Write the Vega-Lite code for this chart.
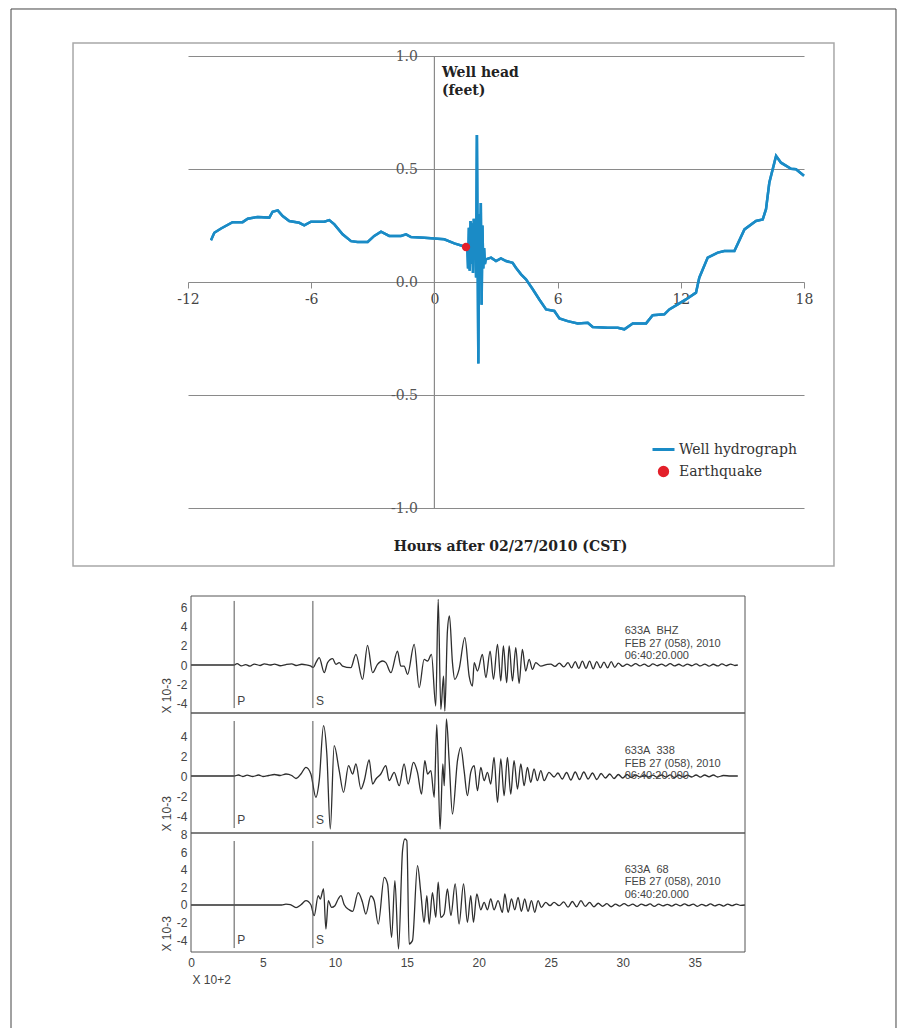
{
  "$schema": "https://vega.github.io/schema/vega-lite/v6.json",
  "padding": {"left": 10, "top": 8, "right": 5, "bottom": 5},
  "background": "white",
  "bounds": "flush",
  "spacing": 0,
  "config": {"view": {"stroke": null}},
  "datasets": {
    "hydro": [
      {"h": -10.88, "v": 0.185}, {"h": -10.72, "v": 0.218}, {"h": -10.39, "v": 0.237}, {"h": -9.83, "v": 0.265}, {"h": -9.34, "v": 0.265},
      {"h": -9.09, "v": 0.28}, {"h": -8.61, "v": 0.288}, {"h": -8.04, "v": 0.285}, {"h": -7.88, "v": 0.311}, {"h": -7.63, "v": 0.317},
      {"h": -7.39, "v": 0.292}, {"h": -7.07, "v": 0.27}, {"h": -6.58, "v": 0.262}, {"h": -6.34, "v": 0.251}, {"h": -6.01, "v": 0.267},
      {"h": -5.36, "v": 0.267}, {"h": -5.12, "v": 0.274}, {"h": -4.87, "v": 0.255}, {"h": -4.47, "v": 0.211}, {"h": -4.06, "v": 0.181},
      {"h": -3.74, "v": 0.177}, {"h": -3.25, "v": 0.177}, {"h": -2.93, "v": 0.204}, {"h": -2.6, "v": 0.223}, {"h": -2.2, "v": 0.204},
      {"h": -1.63, "v": 0.204}, {"h": -1.38, "v": 0.211}, {"h": -1.14, "v": 0.199}, {"h": -0.49, "v": 0.196}, {"h": 0.48, "v": 0.189},
      {"h": 0.97, "v": 0.171}, {"h": 1.54, "v": 0.155}, {"h": 1.6, "v": 0.16}, {"h": 1.64, "v": 0.06}, {"h": 1.68, "v": 0.24},
      {"h": 1.72, "v": 0.05}, {"h": 1.76, "v": 0.27}, {"h": 1.8, "v": 0.08}, {"h": 1.84, "v": 0.26}, {"h": 1.88, "v": 0.04},
      {"h": 1.92, "v": 0.28}, {"h": 1.96, "v": 0.1}, {"h": 2.0, "v": 0.22}, {"h": 2.03, "v": 0.02}, {"h": 2.07, "v": 0.65},
      {"h": 2.14, "v": -0.36}, {"h": 2.18, "v": 0.3}, {"h": 2.22, "v": 0.06}, {"h": 2.26, "v": 0.35}, {"h": 2.3, "v": -0.1},
      {"h": 2.34, "v": 0.25}, {"h": 2.38, "v": 0.06}, {"h": 2.42, "v": 0.15}, {"h": 2.46, "v": 0.08}, {"h": 2.5, "v": 0.1},
      {"h": 2.76, "v": 0.108}, {"h": 3.0, "v": 0.093}, {"h": 3.24, "v": 0.105}, {"h": 3.49, "v": 0.093}, {"h": 3.81, "v": 0.085},
      {"h": 3.97, "v": 0.063}, {"h": 4.22, "v": 0.034}, {"h": 4.46, "v": 0.012}, {"h": 4.79, "v": -0.032}, {"h": 5.11, "v": -0.077},
      {"h": 5.44, "v": -0.121}, {"h": 5.84, "v": -0.128}, {"h": 6.09, "v": -0.161}, {"h": 6.49, "v": -0.173}, {"h": 6.98, "v": -0.183},
      {"h": 7.47, "v": -0.18}, {"h": 7.71, "v": -0.199}, {"h": 8.44, "v": -0.202}, {"h": 8.93, "v": -0.202}, {"h": 9.25, "v": -0.209},
      {"h": 9.66, "v": -0.183}, {"h": 10.31, "v": -0.183}, {"h": 10.63, "v": -0.147}, {"h": 11.2, "v": -0.143}, {"h": 11.44, "v": -0.121},
      {"h": 11.85, "v": -0.099}, {"h": 12.25, "v": -0.077}, {"h": 12.74, "v": -0.047}, {"h": 12.9, "v": 0.019}, {"h": 13.31, "v": 0.108},
      {"h": 13.8, "v": 0.13}, {"h": 14.12, "v": 0.137}, {"h": 14.61, "v": 0.137}, {"h": 15.1, "v": 0.233}, {"h": 15.66, "v": 0.27},
      {"h": 15.99, "v": 0.277}, {"h": 16.15, "v": 0.322}, {"h": 16.31, "v": 0.439}, {"h": 16.64, "v": 0.558}, {"h": 16.88, "v": 0.528},
      {"h": 17.37, "v": 0.501}, {"h": 17.61, "v": 0.499}, {"h": 18.0, "v": 0.47}
    ],
    "quake": [{"h": 1.54, "v": 0.155}],
    "phases": [{"t": 3.0, "label": "P"}, {"t": 8.47, "label": "S"}],
    "info1": [{"label": "633A\u00a0\u00a0BHZ\nFEB 27 (058), 2010\n06:40:20.000"}],
    "info2": [{"label": "633A\u00a0\u00a0338\nFEB 27 (058), 2010\n06:40:20.000"}],
    "info3": [{"label": "633A\u00a0\u00a068\nFEB 27 (058), 2010\n06:40:20.000"}],
    "wave1": [
      {"t": 0, "a": 0}, {"t": 2.9, "a": 0}, {"t": 3.0, "a": 0}, {"t": 3.2, "a": 0.15}, {"t": 3.5, "a": -0.1}, {"t": 3.8, "a": 0.05},
      {"t": 4.1, "a": -0.12}, {"t": 4.4, "a": 0.1}, {"t": 4.8, "a": -0.05}, {"t": 5.1, "a": 0.12}, {"t": 5.5, "a": 0}, {"t": 5.8, "a": 0.1},
      {"t": 6.2, "a": -0.08}, {"t": 6.6, "a": 0.05}, {"t": 7.0, "a": 0.12}, {"t": 7.3, "a": -0.05}, {"t": 7.7, "a": 0.08}, {"t": 8.0, "a": 0.02},
      {"t": 8.3, "a": -0.1}, {"t": 8.5, "a": -0.25}, {"t": 8.68, "a": 0.25}, {"t": 8.91, "a": 0.77}, {"t": 9.26, "a": -0.81}, {"t": 9.49, "a": 0.25},
      {"t": 9.84, "a": 0.67}, {"t": 10.07, "a": 0.07}, {"t": 10.3, "a": 0.25}, {"t": 10.53, "a": -0.11}, {"t": 11.11, "a": -0.28}, {"t": 11.46, "a": 1.12},
      {"t": 11.92, "a": -1.51}, {"t": 12.27, "a": 2.07}, {"t": 12.62, "a": -0.81}, {"t": 12.96, "a": 0.07}, {"t": 13.31, "a": 0.42}, {"t": 13.54, "a": 0.25},
      {"t": 13.89, "a": -0.81}, {"t": 14.35, "a": 1.47}, {"t": 14.58, "a": -0.11}, {"t": 14.81, "a": -0.11}, {"t": 15.05, "a": -0.98}, {"t": 15.51, "a": 2.18},
      {"t": 15.86, "a": -2.39}, {"t": 16.2, "a": 0.6}, {"t": 16.44, "a": 0.42}, {"t": 16.71, "a": 1.12}, {"t": 17.01, "a": -4.32}, {"t": 17.18, "a": 6.91},
      {"t": 17.36, "a": -4.67}, {"t": 17.55, "a": -1.16}, {"t": 17.64, "a": -4.84}, {"t": 17.82, "a": 3.58}, {"t": 17.96, "a": 5.16}, {"t": 18.17, "a": 0.25},
      {"t": 18.33, "a": -1.51}, {"t": 18.63, "a": -0.46}, {"t": 19.03, "a": 2.88}, {"t": 19.33, "a": -1.16}, {"t": 19.56, "a": -2.21}, {"t": 19.68, "a": 0.25},
      {"t": 19.91, "a": -0.63}, {"t": 20.25, "a": 1.12}, {"t": 20.49, "a": -1.33}, {"t": 20.79, "a": 1.47}, {"t": 21.02, "a": -1.51}, {"t": 21.3, "a": 2.18},
      {"t": 21.53, "a": -1.68}, {"t": 21.71, "a": 2.0}, {"t": 21.94, "a": -1.86}, {"t": 22.11, "a": 2.0}, {"t": 22.34, "a": -1.68}, {"t": 22.57, "a": 1.82},
      {"t": 22.8, "a": -1.93}, {"t": 23.03, "a": 1.65}, {"t": 23.26, "a": -0.63}, {"t": 23.5, "a": 0.6}, {"t": 23.73, "a": -0.46}, {"t": 23.96, "a": 0.25},
      {"t": 24.31, "a": -0.11}, {"t": 24.77, "a": 0.07}, {"t": 25.0, "a": 0.1}, {"t": 25.3, "a": -0.15}, {"t": 25.6, "a": 0.2}, {"t": 25.9, "a": -0.2},
      {"t": 26.2, "a": 0.25}, {"t": 26.45, "a": -0.3}, {"t": 26.7, "a": 0.35}, {"t": 26.95, "a": -0.35}, {"t": 27.2, "a": 0.4}, {"t": 27.45, "a": -0.35},
      {"t": 27.7, "a": 0.4}, {"t": 27.95, "a": -0.4}, {"t": 28.2, "a": 0.35}, {"t": 28.45, "a": -0.3}, {"t": 28.7, "a": 0.3}, {"t": 28.95, "a": -0.3},
      {"t": 29.2, "a": 0.35}, {"t": 29.45, "a": -0.25}, {"t": 29.7, "a": 0.2}, {"t": 30.0, "a": -0.15}, {"t": 30.3, "a": 0.1}, {"t": 30.6, "a": -0.12},
      {"t": 30.9, "a": 0.15}, {"t": 31.2, "a": -0.1}, {"t": 31.5, "a": 0.1}, {"t": 31.8, "a": -0.15}, {"t": 32.1, "a": 0.12}, {"t": 32.4, "a": -0.08},
      {"t": 32.7, "a": 0.1}, {"t": 33.0, "a": -0.12}, {"t": 33.3, "a": 0.15}, {"t": 33.6, "a": -0.1}, {"t": 33.9, "a": 0.08}, {"t": 34.2, "a": -0.12},
      {"t": 34.5, "a": 0.1}, {"t": 34.8, "a": -0.08}, {"t": 35.1, "a": 0.12}, {"t": 35.4, "a": -0.1}, {"t": 35.7, "a": 0.1}, {"t": 36.0, "a": -0.12},
      {"t": 36.3, "a": 0.08}, {"t": 36.6, "a": -0.1}, {"t": 36.9, "a": 0.12}, {"t": 37.2, "a": -0.08}, {"t": 37.5, "a": 0.1}, {"t": 37.8, "a": -0.05}, {"t": 38.0, "a": 0}
    ],
    "wave2": [
      {"t": 0, "a": 0}, {"t": 3.0, "a": 0}, {"t": 3.3, "a": 0.1}, {"t": 3.6, "a": -0.05}, {"t": 3.9, "a": 0.08}, {"t": 4.3, "a": -0.05},
      {"t": 4.7, "a": 0.1}, {"t": 5.0, "a": -0.05}, {"t": 5.4, "a": 0.05}, {"t": 5.8, "a": 0.15}, {"t": 6.2, "a": 0.05}, {"t": 6.6, "a": 0.2},
      {"t": 7.0, "a": 0.05}, {"t": 7.3, "a": -0.25}, {"t": 7.64, "a": 0.2}, {"t": 7.99, "a": 0.87}, {"t": 8.33, "a": 0.2}, {"t": 8.68, "a": -2.13},
      {"t": 8.91, "a": -0.47}, {"t": 9.21, "a": 5.03}, {"t": 9.44, "a": 2.2}, {"t": 9.68, "a": -5.3}, {"t": 9.95, "a": 3.03}, {"t": 10.3, "a": 0.53},
      {"t": 10.6, "a": -1.63}, {"t": 10.95, "a": 1.03}, {"t": 11.23, "a": 0.2}, {"t": 11.46, "a": 1.2}, {"t": 11.81, "a": -1.3}, {"t": 12.04, "a": -0.47},
      {"t": 12.38, "a": 1.6}, {"t": 12.62, "a": -0.8}, {"t": 12.85, "a": -0.3}, {"t": 13.19, "a": 0.2}, {"t": 13.54, "a": 1.03}, {"t": 13.77, "a": -0.47},
      {"t": 14.12, "a": 0.37}, {"t": 14.47, "a": -0.97}, {"t": 14.81, "a": 1.2}, {"t": 15.09, "a": -0.8}, {"t": 15.46, "a": 1.37}, {"t": 15.74, "a": 0.37},
      {"t": 16.02, "a": -1.8}, {"t": 16.25, "a": 1.53}, {"t": 16.44, "a": 0.2}, {"t": 16.67, "a": 0.53}, {"t": 16.9, "a": -2.13}, {"t": 17.08, "a": 5.13},
      {"t": 17.31, "a": -5.3}, {"t": 17.5, "a": 1.2}, {"t": 17.6, "a": -0.97}, {"t": 17.75, "a": 5.7}, {"t": 17.94, "a": 1.53}, {"t": 18.17, "a": -3.8},
      {"t": 18.52, "a": 1.53}, {"t": 18.75, "a": 2.87}, {"t": 18.98, "a": 0.53}, {"t": 19.21, "a": -1.97}, {"t": 19.44, "a": 0.37}, {"t": 19.68, "a": 1.03},
      {"t": 19.91, "a": -1.47}, {"t": 20.14, "a": 0.87}, {"t": 20.37, "a": -0.47}, {"t": 20.6, "a": 0.37}, {"t": 20.83, "a": -0.8}, {"t": 21.06, "a": 1.87},
      {"t": 21.3, "a": -2.63}, {"t": 21.53, "a": 1.7}, {"t": 21.76, "a": -1.97}, {"t": 21.99, "a": 1.87}, {"t": 22.22, "a": -1.8}, {"t": 22.45, "a": 1.53},
      {"t": 22.69, "a": -1.3}, {"t": 22.92, "a": 1.2}, {"t": 23.15, "a": -0.97}, {"t": 23.38, "a": 0.87}, {"t": 23.61, "a": -0.63}, {"t": 23.84, "a": 0.7},
      {"t": 24.07, "a": -0.47}, {"t": 24.31, "a": 0.53}, {"t": 24.54, "a": -0.47}, {"t": 24.88, "a": 0.37}, {"t": 25.23, "a": -0.1}, {"t": 25.5, "a": 0.3},
      {"t": 25.8, "a": -0.3}, {"t": 26.1, "a": 0.35}, {"t": 26.4, "a": -0.4}, {"t": 26.7, "a": 0.4}, {"t": 27.0, "a": -0.35}, {"t": 27.3, "a": 0.4},
      {"t": 27.6, "a": -0.3}, {"t": 27.9, "a": 0.3}, {"t": 28.2, "a": -0.35}, {"t": 28.5, "a": 0.25}, {"t": 28.8, "a": -0.2}, {"t": 29.1, "a": 0.2},
      {"t": 29.4, "a": -0.25}, {"t": 29.7, "a": 0.15}, {"t": 30.0, "a": -0.2}, {"t": 30.3, "a": 0.15}, {"t": 30.6, "a": -0.15}, {"t": 30.9, "a": 0.1},
      {"t": 31.2, "a": -0.1}, {"t": 31.5, "a": 0.12}, {"t": 31.8, "a": -0.1}, {"t": 32.1, "a": 0.08}, {"t": 32.4, "a": -0.12}, {"t": 32.7, "a": 0.1},
      {"t": 33.0, "a": -0.1}, {"t": 33.3, "a": 0.12}, {"t": 33.6, "a": -0.15}, {"t": 33.9, "a": 0.1}, {"t": 34.2, "a": -0.1}, {"t": 34.5, "a": 0.08},
      {"t": 34.8, "a": -0.1}, {"t": 35.1, "a": 0.1}, {"t": 35.4, "a": -0.12}, {"t": 35.7, "a": 0.1}, {"t": 36.0, "a": -0.08}, {"t": 36.3, "a": 0.1},
      {"t": 36.6, "a": -0.1}, {"t": 37.0, "a": 0.05}, {"t": 37.5, "a": 0}, {"t": 38.0, "a": 0}
    ],
    "wave3": [
      {"t": 0, "a": 0}, {"t": 6.3, "a": 0}, {"t": 6.6, "a": 0.1}, {"t": 6.9, "a": 0.05}, {"t": 7.3, "a": -0.3}, {"t": 7.64, "a": 0.03},
      {"t": 7.99, "a": 0.49}, {"t": 8.33, "a": 0.03}, {"t": 8.56, "a": -1.21}, {"t": 8.84, "a": 1.06}, {"t": 8.98, "a": 0.68}, {"t": 9.21, "a": 1.82},
      {"t": 9.375, "a": -2.73}, {"t": 9.54, "a": 0.49}, {"t": 9.77, "a": -0.27}, {"t": 10.0, "a": -0.08}, {"t": 10.23, "a": 0.68}, {"t": 10.42, "a": 1.06},
      {"t": 10.65, "a": 0.03}, {"t": 10.995, "a": -0.54}, {"t": 11.23, "a": -0.72}, {"t": 11.62, "a": 1.4}, {"t": 11.92, "a": 0.3}, {"t": 12.15, "a": -1.02},
      {"t": 12.5, "a": 1.02}, {"t": 12.73, "a": 0.49}, {"t": 13.01, "a": -2.16}, {"t": 13.43, "a": 3.14}, {"t": 13.66, "a": 2.4}, {"t": 13.94, "a": -3.67},
      {"t": 14.17, "a": 2.78}, {"t": 14.42, "a": -5.0}, {"t": 14.7, "a": 6.17}, {"t": 14.86, "a": 7.5}, {"t": 15.0, "a": 7.3}, {"t": 15.16, "a": -4.43},
      {"t": 15.39, "a": -4.05}, {"t": 15.74, "a": 4.47}, {"t": 15.97, "a": 1.4}, {"t": 16.2, "a": -1.97}, {"t": 16.39, "a": 1.06}, {"t": 16.55, "a": -2.16},
      {"t": 16.78, "a": 1.4}, {"t": 17.01, "a": -1.4}, {"t": 17.18, "a": 2.6}, {"t": 17.36, "a": -1.4}, {"t": 17.59, "a": -1.02}, {"t": 17.82, "a": 1.82},
      {"t": 18.06, "a": -1.21}, {"t": 18.36, "a": 2.4}, {"t": 18.63, "a": -2.16}, {"t": 18.94, "a": 2.4}, {"t": 19.21, "a": -1.97}, {"t": 19.44, "a": 1.06},
      {"t": 19.63, "a": -1.97}, {"t": 19.86, "a": 1.25}, {"t": 20.14, "a": -0.54}, {"t": 20.37, "a": 0.3}, {"t": 20.6, "a": -0.54}, {"t": 20.83, "a": 0.68},
      {"t": 21.06, "a": -0.54}, {"t": 21.34, "a": 0.49}, {"t": 21.64, "a": -0.83}, {"t": 21.81, "a": 1.25}, {"t": 22.04, "a": -0.83}, {"t": 22.27, "a": 0.68},
      {"t": 22.5, "a": -0.54}, {"t": 22.73, "a": 0.87}, {"t": 22.96, "a": -0.72}, {"t": 23.19, "a": 0.68}, {"t": 23.42, "a": -0.72}, {"t": 23.66, "a": 0.49},
      {"t": 23.89, "a": -0.83}, {"t": 24.12, "a": 0.49}, {"t": 24.35, "a": -0.27}, {"t": 24.65, "a": 0.3}, {"t": 24.95, "a": -0.08}, {"t": 25.23, "a": 0.3},
      {"t": 25.58, "a": -0.08}, {"t": 25.9, "a": 0.35}, {"t": 26.2, "a": -0.25}, {"t": 26.5, "a": 0.4}, {"t": 26.8, "a": -0.2}, {"t": 27.1, "a": 0.5},
      {"t": 27.4, "a": -0.15}, {"t": 27.7, "a": 0.3}, {"t": 28.0, "a": -0.2}, {"t": 28.3, "a": 0.2}, {"t": 28.6, "a": -0.15}, {"t": 28.9, "a": 0.15},
      {"t": 29.2, "a": -0.2}, {"t": 29.5, "a": 0.1}, {"t": 29.8, "a": -0.12}, {"t": 30.1, "a": 0.15}, {"t": 30.4, "a": -0.1}, {"t": 30.7, "a": 0.1},
      {"t": 31.0, "a": -0.15}, {"t": 31.3, "a": 0.1}, {"t": 31.6, "a": -0.08}, {"t": 31.9, "a": 0.12}, {"t": 32.2, "a": -0.15}, {"t": 32.5, "a": 0.1},
      {"t": 32.8, "a": -0.1}, {"t": 33.1, "a": 0.08}, {"t": 33.4, "a": -0.12}, {"t": 33.7, "a": 0.1}, {"t": 34.0, "a": -0.1}, {"t": 34.3, "a": 0.12},
      {"t": 34.6, "a": -0.08}, {"t": 34.9, "a": 0.1}, {"t": 35.2, "a": -0.15}, {"t": 35.5, "a": 0.08}, {"t": 35.8, "a": -0.1}, {"t": 36.1, "a": 0.12},
      {"t": 36.4, "a": -0.1}, {"t": 36.7, "a": 0.08}, {"t": 37.0, "a": -0.12}, {"t": 37.3, "a": 0.1}, {"t": 37.6, "a": -0.08}, {"t": 37.9, "a": 0.1},
      {"t": 38.2, "a": -0.05}, {"t": 38.5, "a": 0}
    ]
  },
  "vconcat": [
    {
      "width": 616,
      "height": 540,
      "layer": [
        {
          "data": {"name": "hydro"},
          "mark": {"type": "line", "strokeWidth": 2.5},
          "encoding": {
            "x": {
              "field": "h", "type": "quantitative",
              "scale": {"domain": [-12, 18], "nice": false, "zero": false},
              "axis": {
                "orient": "bottom", "offset": -314, "values": [-12, -6, 0, 6, 12, 18],
                "labelExpr": "datum.value + ''", "domain": false, "grid": false,
                "ticks": true, "tickSize": 6, "tickColor": "#8a8a8a",
                "labelPadding": 4, "labelFont": "DejaVu Serif", "labelFontSize": 14, "labelColor": "#444",
                "labelFlush": false, "labelOverlap": false,
                "title": "Hours after 02/27/2010 (CST)", "titleFont": "DejaVu Serif", "titleFontSize": 14,
                "titleFontWeight": "bold", "titleColor": "#222", "titleX": 322, "titleY": 264,
                "titleAlign": "center", "titleBaseline": "middle"
              }
            },
            "y": {
              "field": "v", "type": "quantitative",
              "scale": {"domain": [-1.389, 1.0], "nice": false, "zero": false},
              "axis": {
                "orient": "left", "offset": -246.4, "values": [-1, -0.5, 0, 0.5, 1],
                "labelExpr": "replace(format(datum.value, '.1f'), '\u2212', '-')",
                "grid": true, "gridColor": "#8a8a8a", "gridWidth": 1.2, "domain": false, "ticks": false,
                "labelPadding": 17, "labelFont": "DejaVu Serif", "labelFontSize": 14, "labelColor": "#555",
                "labelOverlap": false,
                "title": ["Well head", "(feet)"], "titleAngle": 0, "titleAlign": "left", "titleBaseline": "alphabetic",
                "titleX": 7, "titleY": 20, "titleLineHeight": 18,
                "titleFont": "DejaVu Serif", "titleFontSize": 14, "titleFontWeight": "bold", "titleColor": "#222"
              }
            },
            "color": {
              "datum": "Well hydrograph", "type": "nominal",
              "scale": {"domain": ["Well hydrograph", "Earthquake"], "range": ["#1a8bc6", "#e3202a"]},
              "legend": {
                "orient": "none", "legendX": 463, "legendY": 381, "title": null, "padding": 0,
                "symbolType": "stroke", "symbolSize": 484, "symbolStrokeWidth": 3,
                "labelFont": "DejaVu Serif", "labelFontSize": 14, "labelColor": "#333",
                "labelOffset": 3, "rowPadding": 2,
                "encode": {
                  "symbols": {
                    "update": {
                      "shape": {"signal": "datum.value === 'Earthquake' ? 'circle' : 'stroke'"},
                      "size": {"signal": "datum.value === 'Earthquake' ? 70 : 484"},
                      "fill": {"signal": "datum.value === 'Earthquake' ? '#e3202a' : 'transparent'"},
                      "stroke": {"signal": "datum.value === 'Earthquake' ? 'transparent' : '#1a8bc6'"},
                      "opacity": {"value": 1}
                    }
                  }
                }
              }
            }
          }
        },
        {
          "data": {"values": [{"frame": "page"}]},
          "mark": {"type": "rect", "fill": "transparent", "stroke": "#444", "strokeWidth": 1},
          "encoding": {
            "x": {"datum": -20.62, "type": "quantitative", "scale": {"domain": [-12, 18], "nice": false, "zero": false}},
            "x2": {"datum": 22.48},
            "y": {"datum": 1.208, "type": "quantitative", "scale": {"domain": [-1.389, 1.0], "nice": false, "zero": false}},
            "y2": {"datum": -3.36}
          }
        },
        {
          "data": {"values": [{"frame": "plot box"}]},
          "mark": {"type": "rect", "fill": "transparent", "stroke": "#a8a8a8", "strokeWidth": 1.5},
          "encoding": {
            "x": {"datum": -17.6, "type": "quantitative", "scale": {"domain": [-12, 18], "nice": false, "zero": false}},
            "x2": {"datum": 19.46},
            "y": {"datum": 1.0575, "type": "quantitative", "scale": {"domain": [-1.389, 1.0], "nice": false, "zero": false}},
            "y2": {"datum": -1.2566}
          }
        },
        {
          "data": {"values": [{"line": "zero hour"}]},
          "mark": {"type": "rule", "color": "#8a8a8a", "strokeWidth": 1.2},
          "encoding": {
            "x": {"datum": 0, "type": "quantitative", "scale": {"domain": [-12, 18], "nice": false, "zero": false}},
            "y": {"datum": -1, "type": "quantitative", "scale": {"domain": [-1.389, 1.0], "nice": false, "zero": false}},
            "y2": {"datum": 1}
          }
        },
        {
          "data": {"name": "hydro"},
          "mark": {"type": "line", "strokeWidth": 2.5, "color": "#1a8bc6"},
          "encoding": {
            "x": {"field": "h", "type": "quantitative", "scale": {"domain": [-12, 18], "nice": false, "zero": false}},
            "y": {"field": "v", "type": "quantitative", "scale": {"domain": [-1.389, 1.0], "nice": false, "zero": false}}
          }
        },
        {
          "data": {"name": "quake"},
          "mark": {"type": "point", "filled": true, "size": 70, "opacity": 1},
          "encoding": {
            "x": {"field": "h", "type": "quantitative", "scale": {"domain": [-12, 18], "nice": false, "zero": false}},
            "y": {"field": "v", "type": "quantitative", "scale": {"domain": [-1.389, 1.0], "nice": false, "zero": false}},
            "color": {"datum": "Earthquake", "type": "nominal", "scale": {"domain": ["Well hydrograph", "Earthquake"], "range": ["#1a8bc6", "#e3202a"]}}
          }
        }
      ]
    },
    {
      "width": 557,
      "height": 117,
      "resolve": {"axis": {"x": "independent", "y": "independent"}},
      "layer": [
        {
          "data": {"name": "wave1"},
          "mark": {"type": "line", "color": "#2e2e2e", "strokeWidth": 1.3, "interpolate": "monotone"},
          "encoding": {
            "x": {"field": "t", "type": "quantitative", "scale": {"domain": [-0.2085, 38.5], "nice": false, "zero": false},
              "axis": {"orient": "bottom", "values": [0,1,2,3,4,5,6,7,8,9,10,11,12,13,14,15,16,17,18,19,20,21,22,23,24,25,26,27,28,29,30,31,32,33,34,35,36,37,38],
                "labels": false, "title": null, "domain": false, "grid": false, "ticks": true, "tickSize": 0, "tickColor": "#555",
                "encode": {"ticks": {"update": {"y2": {"signal": "datum.value % 5 === 0 ? -7 : -4"}}}}}},
            "y": {"field": "a", "type": "quantitative", "scale": {"domain": [-5.05, 7.26], "nice": false, "zero": false},
              "axis": {"orient": "left", "offset": -3, "values": [-5,-4,-3,-2,-1,0,1,2,3,4,5,6,7],
                "labelExpr": "datum.value % 2 === 0 ? datum.value + '' : ''", "labelFont": "Liberation Sans", "labelFontSize": 12,
                "labelColor": "#444", "labelPadding": 4, "labelOverlap": false, "tickSize": 0, "tickColor": "#555", "domain": false, "grid": false,
                "title": "X 10-3", "titleFont": "Liberation Sans", "titleFontSize": 12, "titleFontWeight": "normal", "titleColor": "#444",
                "titleAngle": 270, "titleAlign": "left", "titleBaseline": "middle", "titleX": -25, "titleY": 117,
                "encode": {"ticks": {"update": {"x2": {"signal": "datum.value % 2 === 0 ? 8 : 4"}}}}}}
          }
        },
        {
          "data": {"values": [{"guide": "frame ticks"}]},
          "mark": {"type": "point", "opacity": 0},
          "encoding": {
            "x": {"datum": 0, "type": "quantitative", "scale": {"domain": [-0.2085, 38.5], "nice": false, "zero": false},
              "axis": {"orient": "top", "values": [0,1,2,3,4,5,6,7,8,9,10,11,12,13,14,15,16,17,18,19,20,21,22,23,24,25,26,27,28,29,30,31,32,33,34,35,36,37,38],
                "labels": false, "title": null, "domain": false, "grid": false, "ticks": true, "tickSize": 0, "tickColor": "#555",
                "encode": {"ticks": {"update": {"y2": {"signal": "datum.value % 5 === 0 ? 7 : 4"}}}}}},
            "y": {"datum": 0, "type": "quantitative", "scale": {"domain": [-5.05, 7.26], "nice": false, "zero": false},
              "axis": {"orient": "right", "values": [-5,-4,-3,-2,-1,0,1,2,3,4,5,6,7],
                "labels": false, "title": null, "domain": false, "grid": false, "ticks": true, "tickSize": 0, "tickColor": "#555",
                "encode": {"ticks": {"update": {"x2": {"signal": "datum.value % 2 === 0 ? -8 : -4"}}}}}}
          }
        },
        {
          "data": {"values": [{"frame": "panel"}]},
          "mark": {"type": "rect", "fill": "transparent", "stroke": "#555", "strokeWidth": 1},
          "encoding": {
            "x": {"datum": 0, "type": "quantitative", "scale": {"domain": [-0.2085, 38.5], "nice": false, "zero": false}, "axis": null},
            "x2": {"datum": 38.5},
            "y": {"datum": -5.05, "type": "quantitative", "scale": {"domain": [-5.05, 7.26], "nice": false, "zero": false}, "axis": null},
            "y2": {"datum": 7.26}
          }
        },
        {
          "data": {"name": "phases"},
          "mark": {"type": "rule", "color": "#555", "strokeWidth": 1},
          "encoding": {
            "x": {"field": "t", "type": "quantitative", "scale": {"domain": [-0.2085, 38.5], "nice": false, "zero": false}, "axis": null},
            "y": {"datum": -4.53, "type": "quantitative", "scale": {"domain": [-5.05, 7.26], "nice": false, "zero": false}, "axis": null},
            "y2": {"datum": 6.74}
          }
        },
        {
          "data": {"name": "phases"},
          "mark": {"type": "text", "align": "left", "baseline": "alphabetic", "dx": 3, "font": "Liberation Sans", "fontSize": 12, "color": "#444"},
          "encoding": {
            "x": {"field": "t", "type": "quantitative", "scale": {"domain": [-0.2085, 38.5], "nice": false, "zero": false}, "axis": null},
            "y": {"datum": -4.21, "type": "quantitative", "scale": {"domain": [-5.05, 7.26], "nice": false, "zero": false}, "axis": null},
            "text": {"field": "label"}
          }
        },
        {
          "data": {"name": "info1"},
          "mark": {"type": "text", "align": "left", "baseline": "alphabetic", "lineBreak": "\n", "lineHeight": 12.5, "font": "Liberation Sans", "fontSize": 11, "color": "#444"},
          "encoding": {
            "x": {"datum": 30.14, "type": "quantitative", "scale": {"domain": [-0.2085, 38.5], "nice": false, "zero": false}, "axis": null},
            "y": {"datum": 3.26, "type": "quantitative", "scale": {"domain": [-5.05, 7.26], "nice": false, "zero": false}, "axis": null},
            "text": {"field": "label"}
          }
        }
      ]
    },
    {
      "width": 557,
      "height": 120,
      "resolve": {"axis": {"x": "independent", "y": "independent"}},
      "layer": [
        {
          "data": {"name": "wave2"},
          "mark": {"type": "line", "color": "#2e2e2e", "strokeWidth": 1.3, "interpolate": "monotone"},
          "encoding": {
            "x": {"field": "t", "type": "quantitative", "scale": {"domain": [-0.2085, 38.5], "nice": false, "zero": false},
              "axis": {"orient": "bottom", "values": [0,1,2,3,4,5,6,7,8,9,10,11,12,13,14,15,16,17,18,19,20,21,22,23,24,25,26,27,28,29,30,31,32,33,34,35,36,37,38],
                "labels": false, "title": null, "domain": false, "grid": false, "ticks": true, "tickSize": 0, "tickColor": "#555",
                "encode": {"ticks": {"update": {"y2": {"signal": "datum.value % 5 === 0 ? -7 : -4"}}}}}},
            "y": {"field": "a", "type": "quantitative", "scale": {"domain": [-5.7, 6.3], "nice": false, "zero": false},
              "axis": {"orient": "left", "offset": -3, "values": [-5,-4,-3,-2,-1,0,1,2,3,4,5],
                "labelExpr": "datum.value % 2 === 0 ? datum.value + '' : ''", "labelFont": "Liberation Sans", "labelFontSize": 12,
                "labelColor": "#444", "labelPadding": 4, "labelOverlap": false, "tickSize": 0, "tickColor": "#555", "domain": false, "grid": false,
                "title": "X 10-3", "titleFont": "Liberation Sans", "titleFontSize": 12, "titleFontWeight": "normal", "titleColor": "#444",
                "titleAngle": 270, "titleAlign": "left", "titleBaseline": "middle", "titleX": -25, "titleY": 118,
                "encode": {"ticks": {"update": {"x2": {"signal": "datum.value % 2 === 0 ? 8 : 4"}}}}}}
          }
        },
        {
          "data": {"values": [{"guide": "frame ticks"}]},
          "mark": {"type": "point", "opacity": 0},
          "encoding": {
            "x": {"datum": 0, "type": "quantitative", "scale": {"domain": [-0.2085, 38.5], "nice": false, "zero": false},
              "axis": {"orient": "top", "values": [0,1,2,3,4,5,6,7,8,9,10,11,12,13,14,15,16,17,18,19,20,21,22,23,24,25,26,27,28,29,30,31,32,33,34,35,36,37,38],
                "labels": false, "title": null, "domain": false, "grid": false, "ticks": true, "tickSize": 0, "tickColor": "#555",
                "encode": {"ticks": {"update": {"y2": {"signal": "datum.value % 5 === 0 ? 7 : 4"}}}}}},
            "y": {"datum": 0, "type": "quantitative", "scale": {"domain": [-5.7, 6.3], "nice": false, "zero": false},
              "axis": {"orient": "right", "values": [-5,-4,-3,-2,-1,0,1,2,3,4,5,6],
                "labels": false, "title": null, "domain": false, "grid": false, "ticks": true, "tickSize": 0, "tickColor": "#555",
                "encode": {"ticks": {"update": {"x2": {"signal": "datum.value % 2 === 0 ? -8 : -4"}}}}}}
          }
        },
        {
          "data": {"values": [{"frame": "panel"}]},
          "mark": {"type": "rect", "fill": "transparent", "stroke": "#555", "strokeWidth": 1},
          "encoding": {
            "x": {"datum": 0, "type": "quantitative", "scale": {"domain": [-0.2085, 38.5], "nice": false, "zero": false}, "axis": null},
            "x2": {"datum": 38.5},
            "y": {"datum": -5.7, "type": "quantitative", "scale": {"domain": [-5.7, 6.3], "nice": false, "zero": false}, "axis": null},
            "y2": {"datum": 6.3}
          }
        },
        {
          "data": {"name": "phases"},
          "mark": {"type": "rule", "color": "#555", "strokeWidth": 1},
          "encoding": {
            "x": {"field": "t", "type": "quantitative", "scale": {"domain": [-0.2085, 38.5], "nice": false, "zero": false}, "axis": null},
            "y": {"datum": -5.2, "type": "quantitative", "scale": {"domain": [-5.7, 6.3], "nice": false, "zero": false}, "axis": null},
            "y2": {"datum": 5.5}
          }
        },
        {
          "data": {"name": "phases"},
          "mark": {"type": "text", "align": "left", "baseline": "alphabetic", "dx": 3, "font": "Liberation Sans", "fontSize": 12, "color": "#444"},
          "encoding": {
            "x": {"field": "t", "type": "quantitative", "scale": {"domain": [-0.2085, 38.5], "nice": false, "zero": false}, "axis": null},
            "y": {"datum": -4.8, "type": "quantitative", "scale": {"domain": [-5.7, 6.3], "nice": false, "zero": false}, "axis": null},
            "text": {"field": "label"}
          }
        },
        {
          "data": {"name": "info2"},
          "mark": {"type": "text", "align": "left", "baseline": "alphabetic", "lineBreak": "\n", "lineHeight": 12.5, "font": "Liberation Sans", "fontSize": 11, "color": "#444"},
          "encoding": {
            "x": {"datum": 30.14, "type": "quantitative", "scale": {"domain": [-0.2085, 38.5], "nice": false, "zero": false}, "axis": null},
            "y": {"datum": 2.2, "type": "quantitative", "scale": {"domain": [-5.7, 6.3], "nice": false, "zero": false}, "axis": null},
            "text": {"field": "label"}
          }
        }
      ]
    },
    {
      "width": 557,
      "height": 119,
      "resolve": {"axis": {"x": "independent", "y": "independent"}},
      "layer": [
        {
          "data": {"name": "wave3"},
          "mark": {"type": "line", "color": "#2e2e2e", "strokeWidth": 1.3, "interpolate": "monotone"},
          "encoding": {
            "x": {"field": "t", "type": "quantitative", "scale": {"domain": [-0.2085, 38.5], "nice": false, "zero": false},
              "axis": {"orient": "bottom", "values": [0,1,2,3,4,5,6,7,8,9,10,11,12,13,14,15,16,17,18,19,20,21,22,23,24,25,26,27,28,29,30,31,32,33,34,35,36,37,38],
                "labelExpr": "datum.value % 5 === 0 ? datum.value + '' : ''", "labelFont": "Liberation Sans", "labelFontSize": 12, "labelColor": "#444",
                "labelPadding": 5, "labelOverlap": false, "labelFlush": false,
                "title": "X 10+2", "titleFont": "Liberation Sans", "titleFontSize": 12, "titleFontWeight": "normal", "titleColor": "#444",
                "titleAlign": "left", "titleBaseline": "middle", "titleX": 4, "titleY": 27,
                "domain": false, "grid": false, "ticks": true, "tickSize": 0, "tickColor": "#555",
                "encode": {"ticks": {"update": {"y2": {"signal": "datum.value % 5 === 0 ? -7 : -4"}}}}}},
            "y": {"field": "a", "type": "quantitative", "scale": {"domain": [-5.34, 8.18], "nice": false, "zero": false},
              "axis": {"orient": "left", "offset": -3, "values": [-5,-4,-3,-2,-1,0,1,2,3,4,5,6,7,8],
                "labelExpr": "datum.value % 2 === 0 ? datum.value + '' : ''", "labelFont": "Liberation Sans", "labelFontSize": 12,
                "labelColor": "#444", "labelPadding": 4, "labelOverlap": false, "tickSize": 0, "tickColor": "#555", "domain": false, "grid": false,
                "title": "X 10-3", "titleFont": "Liberation Sans", "titleFontSize": 12, "titleFontWeight": "normal", "titleColor": "#444",
                "titleAngle": 270, "titleAlign": "left", "titleBaseline": "middle", "titleX": -25, "titleY": 118,
                "encode": {"ticks": {"update": {"x2": {"signal": "datum.value % 2 === 0 ? 8 : 4"}}}}}}
          }
        },
        {
          "data": {"values": [{"guide": "frame ticks"}]},
          "mark": {"type": "point", "opacity": 0},
          "encoding": {
            "x": {"datum": 0, "type": "quantitative", "scale": {"domain": [-0.2085, 38.5], "nice": false, "zero": false},
              "axis": {"orient": "top", "values": [0,1,2,3,4,5,6,7,8,9,10,11,12,13,14,15,16,17,18,19,20,21,22,23,24,25,26,27,28,29,30,31,32,33,34,35,36,37,38],
                "labels": false, "title": null, "domain": false, "grid": false, "ticks": true, "tickSize": 0, "tickColor": "#555",
                "encode": {"ticks": {"update": {"y2": {"signal": "datum.value % 5 === 0 ? 7 : 4"}}}}}},
            "y": {"datum": 0, "type": "quantitative", "scale": {"domain": [-5.34, 8.18], "nice": false, "zero": false},
              "axis": {"orient": "right", "values": [-5,-4,-3,-2,-1,0,1,2,3,4,5,6,7,8],
                "labels": false, "title": null, "domain": false, "grid": false, "ticks": true, "tickSize": 0, "tickColor": "#555",
                "encode": {"ticks": {"update": {"x2": {"signal": "datum.value % 2 === 0 ? -8 : -4"}}}}}}
          }
        },
        {
          "data": {"values": [{"frame": "panel"}]},
          "mark": {"type": "rect", "fill": "transparent", "stroke": "#555", "strokeWidth": 1},
          "encoding": {
            "x": {"datum": 0, "type": "quantitative", "scale": {"domain": [-0.2085, 38.5], "nice": false, "zero": false}, "axis": null},
            "x2": {"datum": 38.5},
            "y": {"datum": -5.34, "type": "quantitative", "scale": {"domain": [-5.34, 8.18], "nice": false, "zero": false}, "axis": null},
            "y2": {"datum": 8.18}
          }
        },
        {
          "data": {"name": "phases"},
          "mark": {"type": "rule", "color": "#555", "strokeWidth": 1},
          "encoding": {
            "x": {"field": "t", "type": "quantitative", "scale": {"domain": [-0.2085, 38.5], "nice": false, "zero": false}, "axis": null},
            "y": {"datum": -4.89, "type": "quantitative", "scale": {"domain": [-5.34, 8.18], "nice": false, "zero": false}, "axis": null},
            "y2": {"datum": 7.27}
          }
        },
        {
          "data": {"name": "phases"},
          "mark": {"type": "text", "align": "left", "baseline": "alphabetic", "dx": 3, "font": "Liberation Sans", "fontSize": 12, "color": "#444"},
          "encoding": {
            "x": {"field": "t", "type": "quantitative", "scale": {"domain": [-0.2085, 38.5], "nice": false, "zero": false}, "axis": null},
            "y": {"datum": -4.43, "type": "quantitative", "scale": {"domain": [-5.34, 8.18], "nice": false, "zero": false}, "axis": null},
            "text": {"field": "label"}
          }
        },
        {
          "data": {"name": "info3"},
          "mark": {"type": "text", "align": "left", "baseline": "alphabetic", "lineBreak": "\n", "lineHeight": 12.5, "font": "Liberation Sans", "fontSize": 11, "color": "#444"},
          "encoding": {
            "x": {"datum": 30.14, "type": "quantitative", "scale": {"domain": [-0.2085, 38.5], "nice": false, "zero": false}, "axis": null},
            "y": {"datum": 3.64, "type": "quantitative", "scale": {"domain": [-5.34, 8.18], "nice": false, "zero": false}, "axis": null},
            "text": {"field": "label"}
          }
        }
      ]
    }
  ]
}
